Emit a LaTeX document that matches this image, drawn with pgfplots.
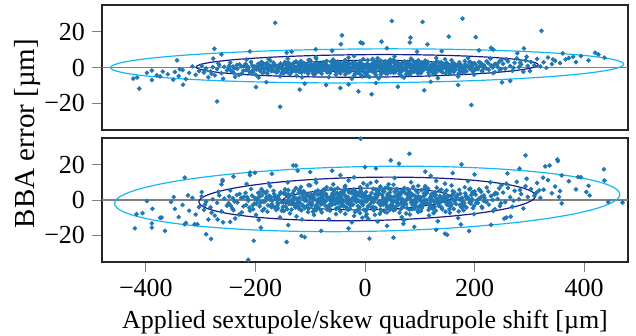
\documentclass[border=0pt]{standalone}
\usepackage{fontspec}
\setmainfont{Liberation Serif}
\usepackage{pgfplots}
\pgfplotsset{compat=1.18}
\definecolor{ptc}{HTML}{1F77B4}
\definecolor{ellC}{HTML}{12B8F5}
\definecolor{ellN}{HTML}{1A1A8C}
\definecolor{ellD}{HTML}{0E0E50}
\pgfplotsset{
  panel/.style={
    scale only axis, width=263pt,
    xmin=-480, xmax=480, ymin=-35, ymax=35,
    ytick={-20,0,20}, yticklabels={−20,0,20},
    tick pos=left, tick align=outside, major tick length=5pt,
    major tick style={gray, line width=0.5pt},
    axis line style={black!85, line width=0.65pt},
    tick label style={font=\fontsize{13}{15}\selectfont},
    label style={font=\fontsize{13}{15}\selectfont},
  },
  pts/.style={only marks, mark=*, mark size=0.95pt, color=ptc, mark options={fill=ptc, draw=none}},
}
\begin{document}
\begin{tikzpicture}
\path[use as bounding box] (-51pt,2.5pt) rectangle (267pt,-165.5pt);
% ---------------- top panel ----------------
\begin{axis}[panel, height=62.5pt, at={(0pt,0pt)}, anchor=north west, xtick=\empty]
\addplot[gray, line width=0.6pt] coordinates {(-480,0) (480,0)};
\addplot[ellD, line width=0.5pt, domain=0:360, samples=121] ({4+156*cos(x)}, {0.9+3.15*sin(x)+0.002*156*cos(x)});
\addplot[pts] coordinates {
(2,1.2)(5,-2.5)(9,0.4)(13,-0.9)(16,3.1)(20,-4.2)(24,0.8)(27,1.9)(31,-1.4)(35,2.6)(38,-3.3)(42,0.1)(46,4.4)(49,-1.8)(1,-0.3)(4,2.2)(8,-5.3)(11,1.0)(15,-2.1)(18,0.6)(22,2.9)(26,-0.7)(29,-3.9)(33,1.5)(36,0.2)(40,-1.1)(44,3.6)(47,-2.8)(3,0.9)(7,-0.4)(10,-1.6)(14,4.8)(17,-2.4)(21,0.5)(25,-6.1)(28,1.7)(32,-0.2)(37,2.4)(41,-3.5)(45,1.3)(48,0.3)(6,-1.9)(12,2.0)(19,-0.6)(23,5.2)(30,-2.7)(34,0.7)(39,-1.2)(43,3.3)(50,-0.8)(2,-4.6)(8,1.1)(14,-0.1)(20,-2.2)(26,2.8)(31,-3.0)(37,0.0)(42,1.6)(47,-1.5)(5,4.1)(11,0.9)(17,-2.9)(23,1.4)(29,3.8)(35,-1.0)(40,-0.5)(46,2.1)(3,-4.0)(9,0.4)(16,-2.0)(22,1.8)(28,-0.3)(34,-1.3)(41,0.6)(48,3.0)
(51,-1.7)(54,2.3)(58,-0.5)(61,1.1)(65,-2.6)(68,0.3)(72,3.4)(75,-1.2)(79,0.8)(82,-4.1)(86,1.6)(89,-0.2)(93,2.7)(96,-3.0)(99,0.5)(52,4.3)(56,-1.9)(59,0.0)(63,-3.6)(66,1.9)(70,-0.8)(73,2.0)(77,-2.3)(80,0.6)(84,5.0)(87,-1.4)(91,1.2)(94,-0.6)(98,-2.1)(53,0.9)(57,3.0)(60,-1.1)(64,0.4)(67,-4.8)(71,2.5)(74,-0.3)(78,1.4)(81,-2.7)(85,-0.1)(88,3.7)(92,-1.6)(95,0.7)(97,-3.4)(55,-0.4)(62,2.1)(69,-1.8)(76,0.2)(83,1.8)(90,-2.4)(97,4.0)(52,-2.9)(58,1.5)(65,-0.9)(71,-5.7)(78,3.1)(84,-0.7)(91,0.1)(98,1.0)(54,6.2)(61,-1.3)(68,2.8)(75,-3.8)(82,0.9)(89,-0.5)(96,2.2)(57,-0.1)(73,-1.0)(87,1.3)
(101,0.7)(104,-2.2)(108,1.9)(111,-0.4)(115,3.2)(118,-1.5)(122,0.2)(125,-3.7)(129,1.4)(132,-0.8)(136,2.6)(139,-2.0)(143,0.5)(146,4.6)(149,-1.1)(102,-3.1)(106,1.0)(109,-0.1)(113,2.3)(117,-4.4)(120,0.9)(124,1.7)(127,-1.9)(131,3.5)(134,-0.3)(138,0.8)(141,-2.6)(145,1.2)(148,-0.6)(103,2.8)(107,-1.3)(112,0.0)(116,-2.8)(121,1.6)(126,-0.5)(130,5.4)(135,-1.7)(140,0.3)(144,2.0)(147,-3.3)(105,-0.9)(110,3.9)(114,-1.0)(119,0.6)(123,-2.4)(128,2.2)(133,-6.0)(137,1.1)(142,-0.2)(150,-1.4)(109,1.3)(119,-0.7)(129,-3.0)(139,2.9)(149,0.4)
(152,1.0)(156,-1.8)(160,2.5)(163,-0.3)(167,0.9)(171,-3.2)(174,1.8)(178,-0.9)(182,3.6)(185,-2.1)(189,0.4)(193,-1.0)(196,2.2)(199,-4.0)(154,-0.5)(158,4.1)(162,-2.5)(165,0.1)(169,1.5)(173,-1.4)(177,0.6)(180,-2.9)(184,1.2)(188,5.3)(191,-0.7)(195,0.3)(198,2.0)(155,-3.6)(161,1.7)(166,-1.1)(172,2.9)(176,-0.1)(181,-1.6)(187,0.8)(192,3.2)(197,-2.3)(159,0.5)(170,-5.1)(183,1.9)(194,-0.4)
(202,1.5)(206,-0.8)(210,2.7)(214,-2.2)(218,0.6)(222,3.5)(226,-1.3)(230,1.1)(234,-3.1)(238,2.0)(242,0.3)(246,-1.7)(249,4.2)(204,-0.2)(208,3.0)(213,-1.9)(217,1.3)(221,-0.5)(225,2.4)(229,5.0)(233,0.0)(237,-2.6)(241,1.8)(245,3.3)(248,-0.9)(212,0.9)(236,1.6)
(252,2.1)(256,-0.6)(261,3.4)(265,0.8)(269,-1.9)(273,2.6)(277,5.1)(281,0.2)(285,1.7)(289,-2.4)(293,3.9)(297,0.9)(258,4.6)(271,-0.2)(283,2.8)(295,6.0)
(303,3.1)(309,1.2)(314,4.8)(320,0.6)(326,2.9)(334,5.6)(341,1.9)(347,3.8)(356,2.5)(372,5.3)(385,3.0)(394,6.4)(408,4.0)(437,5.5)
(-1,0.6)(-4,-1.4)(-8,2.8)(-11,-0.2)(-15,1.3)(-18,-3.4)(-22,0.7)(-25,-1.0)(-29,2.1)(-33,-2.3)(-36,4.0)(-40,0.1)(-43,-0.9)(-47,1.6)(-2,-2.7)(-6,0.9)(-9,3.6)(-13,-1.7)(-17,0.3)(-20,-4.5)(-24,1.9)(-27,-0.4)(-31,0.8)(-35,-2.0)(-38,2.5)(-42,-0.6)(-45,-3.2)(-49,1.0)(-3,4.7)(-7,-0.8)(-10,1.2)(-14,-2.9)(-19,0.0)(-23,2.3)(-26,-1.6)(-30,5.5)(-34,-0.3)(-37,1.4)(-41,-1.2)(-46,0.4)(-5,-5.0)(-12,1.7)(-16,-0.5)(-21,3.0)(-28,-2.5)(-32,0.6)(-39,-1.8)(-44,2.2)(-48,-0.1)(-50,3.3)(-2,1.5)(-9,-3.7)(-15,0.2)(-22,-1.3)(-29,2.6)(-35,0.9)(-41,-0.7)(-47,-2.2)(-6,2.0)(-12,-0.3)(-18,1.1)(-24,-6.3)(-31,0.5)(-37,3.8)(-43,-1.5)(-4,-0.6)(-10,-2.1)(-17,2.4)(-23,0.4)(-30,-1.1)(-36,-3.9)(-42,1.8)(-48,0.7)(-20,6.4)(-33,-0.8)
(-51,2.0)(-55,-1.1)(-58,0.5)(-62,3.2)(-65,-2.4)(-69,0.9)(-72,-0.4)(-76,1.8)(-79,-3.5)(-83,0.2)(-86,2.7)(-90,-1.6)(-93,0.7)(-97,-0.9)(-100,4.1)(-53,-4.0)(-56,1.4)(-60,-0.2)(-63,0.8)(-67,-1.9)(-70,3.6)(-74,-0.6)(-77,1.1)(-81,-2.8)(-84,0.4)(-88,-0.1)(-91,2.3)(-95,-3.3)(-98,1.6)(-52,0.3)(-57,2.6)(-61,-1.4)(-66,-5.4)(-71,1.0)(-75,-0.7)(-80,2.1)(-85,-2.0)(-89,4.9)(-94,0.0)(-99,-1.3)(-54,-0.5)(-59,1.9)(-64,-3.0)(-68,0.6)(-73,2.9)(-78,-1.0)(-82,-0.3)(-87,1.5)(-92,-2.6)(-96,0.8)(-51,-2.2)(-58,4.4)(-65,0.1)(-72,-1.7)(-79,1.3)(-86,-0.8)(-93,-4.2)(-100,0.9)(-55,3.0)(-62,-0.9)(-69,-2.7)(-76,0.2)(-83,1.7)(-90,5.7)(-97,-1.5)(-60,0.4)(-74,-0.1)(-88,-2.3)
(-102,1.1)(-105,-1.6)(-109,0.3)(-112,2.5)(-116,-2.9)(-119,0.7)(-123,-0.6)(-126,3.4)(-130,-1.3)(-133,0.0)(-137,-3.8)(-140,1.6)(-144,-0.4)(-147,2.1)(-150,-2.0)(-103,4.2)(-107,-0.2)(-110,-2.3)(-114,1.4)(-118,-0.9)(-121,2.0)(-125,-4.6)(-128,0.5)(-132,1.9)(-135,-1.1)(-139,0.8)(-142,-2.6)(-146,3.0)(-149,-0.7)(-104,-3.4)(-108,0.9)(-113,-1.5)(-117,3.7)(-122,0.2)(-127,-2.1)(-131,1.2)(-136,-0.5)(-141,5.0)(-145,-1.8)(-106,1.7)(-111,-0.1)(-115,-5.5)(-120,2.8)(-124,-1.0)(-129,0.6)(-134,-2.7)(-138,1.3)(-143,-0.3)(-148,-3.1)(-101,-0.8)(-111,2.2)(-121,-1.9)(-131,-0.6)(-141,1.0)(-124,0.4)
(-152,-0.6)(-156,1.5)(-159,-2.3)(-163,0.4)(-167,2.6)(-170,-1.2)(-174,0.1)(-178,-3.3)(-181,1.9)(-185,-0.5)(-189,3.1)(-192,-1.8)(-196,0.6)(-199,-4.2)(-154,2.2)(-158,-0.9)(-162,-2.8)(-165,1.0)(-169,-0.2)(-173,3.9)(-177,-1.5)(-180,0.7)(-184,-2.5)(-188,1.3)(-191,-0.8)(-195,2.0)(-198,-1.1)(-155,-4.9)(-161,0.3)(-166,1.7)(-171,-2.0)(-176,4.7)(-182,-0.3)(-187,-3.0)(-193,0.9)(-197,-0.1)(-160,-1.6)(-172,0.8)(-186,2.4)(-194,-5.6)
(-202,-1.0)(-206,1.2)(-210,-3.0)(-214,0.3)(-218,2.0)(-222,-1.8)(-226,0.6)(-230,-4.1)(-234,1.4)(-238,-0.4)(-242,-2.4)(-246,2.7)(-249,-0.9)(-204,-2.6)(-208,3.1)(-213,-0.2)(-217,-1.4)(-221,0.9)(-225,-3.5)(-229,1.7)(-233,-0.7)(-237,-5.2)(-241,0.5)(-245,-1.6)(-248,1.0)(-216,4.5)(-240,-2.9)
(-252,-1.6)(-257,0.4)(-262,-3.2)(-266,1.3)(-270,-0.8)(-274,-4.4)(-278,0.2)(-282,-2.1)(-286,-5.5)(-290,-0.5)(-294,-2.8)(-298,1.0)(-259,-6.3)(-268,2.3)(-280,-3.6)(-292,-1.3)
(-303,-2.0)(-309,-4.1)(-315,0.6)(-321,-3.0)(-327,-6.5)(-333,-1.4)(-340,-4.8)(-347,-2.5)
(-423,-6.2)(-412,-11.8)(-416,-5.6)(-389,-1.7)(-389,-7)(-369,-2.3)(-374,-5)(-343,4)(-350,-6.8)(-332,-9.6)(-338,-1)(-360,-3.8)(-380,-4.4)(-398,-3.0)
(420,8.3)(426,7.3)(380,6)(361,7.9)(366,4.5)(343,4.5)(331,-0.2)(301,-2)
(-270,-19)(-275,10.5)(-164,25)(-155,-22)(-143,8.3)(-134,8.8)(-119,-12.4)(-199,-11)(-262,7.3)(-277,5)(49,26)(105,25.5)(178,27.4)(322,20.5)(-42,18)(153,17.3)(202,17)(30,14.5)(83,16.7)(82,14)(-8,14)(-4,13.5)(-44,13)(114,13)(194,-21)(108,-12.8)(12,-15)(-12,-13.4)(-45,-11.5)(-71,-9.8)(234,10)(230,11)(208,9.6)(290,10.7)(278,8)(-90,10.2)(-30,-9.5)(60,-10.8)(140,9.1)(170,-9.8)(250,-8.3)(-210,9)(-60,9.4)(20,-8.7)(95,8.9)(-180,-8.2)(120,-8.0)(265,-7.5)(-110,-9.0)(40,10.8)
(-215,0.8)(-205,-1.5)(-193,2.1)(-183,-0.4)(-175,1.2)(-166,-2.0)(-157,0.3)(-148,1.8)(-139,-1.1)(-130,2.6)(-121,-0.7)(-112,0.5)(-103,-2.4)(-94,1.5)(-85,-0.2)(-76,2.9)(-67,-1.6)(-58,0.8)(-49,-0.9)(-40,2.2)(-31,-2.8)(-22,0.1)(-13,1.9)(-4,-1.3)(5,0.6)(14,-2.3)(23,2.5)(32,-0.5)(41,1.1)(50,-1.9)(59,3.0)(68,-0.1)(77,1.6)(86,-2.6)(95,0.9)(104,-0.6)(113,2.0)(122,-1.8)(131,0.4)(140,-0.3)(149,2.7)(158,-1.2)(167,1.0)(176,-2.1)(185,0.7)(194,1.4)(203,-0.8)(212,2.3)
(-211,-2.2)(-201,0.6)(-189,-0.5)(-179,2.4)(-170,-1.7)(-161,0.9)(-152,-3.0)(-143,1.3)(-134,0.0)(-125,-1.9)(-116,2.3)(-107,-0.1)(-98,1.0)(-89,-2.9)(-80,0.5)(-71,1.7)(-62,-0.3)(-53,-2.5)(-44,0.9)(-35,3.1)(-26,-1.0)(-17,-0.2)(-8,2.4)(1,-3.1)(10,0.3)(19,1.6)(28,-1.4)(37,3.4)(46,0.2)(55,-2.7)(64,1.3)(73,-0.6)(82,2.1)(91,-1.3)(100,0.0)(109,3.3)(118,-2.2)(127,1.1)(136,-0.9)(145,0.6)(154,-2.6)(163,2.2)(172,0.2)(181,-0.9)(190,3.0)(199,-1.7)(208,0.4)(217,-0.3)
(-180,0.2)(-160,-0.8)(-140,2.8)(-120,-2.5)(-100,0.6)(-80,-1.2)(-60,1.4)(-40,-1.5)(-20,2.0)(0,-0.4)(20,1.0)(40,-2.0)(60,0.8)(80,2.6)(100,-1.6)(120,0.2)(140,-2.2)(160,1.5)(180,-0.6)(200,2.4)
};
\addplot[ellN, line width=0.6pt, domain=0:360, samples=121] ({4+312*cos(x)}, {0.9+6.3*sin(x)+0.002*312*cos(x)});
\addplot[ellC, line width=0.6pt, domain=0:360, samples=121] ({4+468*cos(x)}, {0.9+9.5*sin(x)+0.002*468*cos(x)});
\end{axis}
% ---------------- bottom panel ----------------
\begin{axis}[panel, height=62pt, at={(0pt,-66.5pt)}, anchor=north west,
  xtick={-400,-200,0,200,400}, xticklabels={−400,−200,0,200,400},
  xlabel={Applied sextupole/skew quadrupole shift [µm]}]
\addplot[gray, line width=0.6pt] coordinates {(-480,0) (480,0)};
\addplot[ellD, line width=0.5pt, domain=0:360, samples=121] ({4+154*cos(x)}, {0.6+6.1*sin(x)+0.0055*154*cos(x)});
\addplot[pts] coordinates {
(1,2.4)(4,-5.1)(8,0.9)(11,-1.8)(15,6.3)(18,-8.4)(22,1.6)(25,3.9)(29,-2.8)(32,5.2)(36,-6.6)(39,0.2)(43,8.9)(46,-3.6)(49,-0.6)(2,4.5)(6,-10.7)(9,2.0)(13,-4.2)(17,1.2)(20,5.8)(24,-1.4)(27,-7.8)(31,3.0)(34,0.4)(38,-2.2)(41,7.2)(45,-5.6)(48,1.8)(3,-0.8)(7,-3.2)(10,9.6)(14,-4.8)(19,1.0)(23,-12.2)(26,3.4)(30,-0.4)(35,4.8)(40,-7.0)(44,2.6)(47,0.6)(5,-3.8)(12,4.0)(16,-1.2)(21,10.4)(28,-5.4)(33,1.4)(37,-2.4)(42,6.6)(50,-1.6)(2,-9.2)(8,2.2)(13,-0.2)(19,-4.4)(25,5.6)(30,-6.0)(36,0.0)(41,3.2)(46,-3.0)(4,8.2)(10,1.8)(16,-5.8)(22,2.8)(28,7.6)(34,-2.0)(39,-1.0)(45,4.2)(3,-8.0)(9,0.8)(15,-4.0)(21,3.6)(27,-0.6)(33,-2.6)(40,1.2)(47,6.0)
(51,-3.4)(54,4.6)(58,-1.0)(61,2.2)(65,-5.2)(68,0.6)(72,6.8)(75,-2.4)(79,1.6)(82,-8.2)(86,3.2)(89,-0.4)(93,5.4)(96,-6.0)(99,1.0)(52,8.6)(56,-3.8)(59,0.0)(63,-7.2)(66,3.8)(70,-1.6)(73,4.0)(77,-4.6)(80,1.2)(84,10.0)(87,-2.8)(91,2.4)(94,-1.2)(98,-4.2)(53,1.8)(57,6.0)(60,-2.2)(64,0.8)(67,-9.6)(71,5.0)(74,-0.6)(78,2.8)(81,-5.4)(85,-0.2)(88,7.4)(92,-3.2)(95,1.4)(97,-6.8)(55,-0.8)(62,4.2)(69,-3.6)(76,0.4)(83,3.6)(90,-4.8)(97,8.0)(52,-5.8)(58,3.0)(65,-1.8)(71,-11.4)(78,6.2)(84,-1.4)(91,0.2)(98,2.0)(54,12.4)(61,-2.6)(68,5.6)(75,-7.6)(82,1.8)(89,-1.0)(96,4.4)(57,-0.2)(73,-2.0)(87,2.6)
(101,1.4)(104,-4.4)(108,3.8)(111,-0.8)(115,6.4)(118,-3.0)(122,0.4)(125,-7.4)(129,2.8)(132,-1.6)(136,5.2)(139,-4.0)(143,1.0)(146,9.2)(149,-2.2)(102,-6.2)(106,2.0)(109,-0.2)(113,4.6)(117,-8.8)(120,1.8)(124,3.4)(127,-3.8)(131,7.0)(134,-0.6)(138,1.6)(141,-5.2)(145,2.4)(148,-1.2)(103,5.6)(107,-2.6)(112,0.0)(116,-5.6)(121,3.2)(126,-1.0)(130,10.8)(135,-3.4)(140,0.6)(144,4.0)(147,-6.6)(105,-1.8)(110,7.8)(114,-2.0)(119,1.2)(123,-4.8)(128,4.4)(133,-12.0)(137,2.2)(142,-0.4)(150,-2.8)(109,2.6)(119,-1.4)(129,-6.0)(139,5.8)(149,0.8)
(152,2.0)(156,-3.6)(160,5.0)(163,-0.6)(167,1.8)(171,-6.4)(174,3.6)(178,-1.8)(182,7.2)(185,-4.2)(189,0.8)(193,-2.0)(196,4.4)(199,-8.0)(154,-1.0)(158,8.2)(162,-5.0)(165,0.2)(169,3.0)(173,-2.8)(177,1.2)(180,-5.8)(184,2.4)(188,10.6)(191,-1.4)(195,0.6)(198,4.0)(155,-7.2)(161,3.4)(166,-2.2)(172,5.8)(176,-0.2)(181,-3.2)(187,1.6)(192,6.4)(197,-4.6)(159,1.0)(170,-10.2)(183,3.8)(194,-0.8)
(202,3.0)(206,-1.6)(210,5.4)(214,-4.4)(218,1.2)(222,7.0)(226,-2.6)(230,2.2)(234,-6.2)(238,4.0)(242,0.6)(246,-3.4)(249,8.4)(204,-0.4)(208,6.0)(213,-3.8)(217,2.6)(221,-1.0)(225,4.8)(229,10.0)(233,0.0)(237,-5.2)(241,3.6)(245,6.6)(248,-1.8)(212,1.8)(236,3.2)
(252,4.2)(256,-1.2)(261,6.8)(265,1.6)(269,-3.8)(273,5.2)(277,10.2)(281,0.4)(285,3.4)(289,-4.8)(293,7.8)(297,1.8)(258,9.2)(271,-0.4)(283,5.6)(295,12.0)
(303,6.2)(309,2.4)(314,9.6)(320,1.2)(326,5.8)(334,11.2)(341,3.8)(347,7.6)(356,5.0)(372,10.6)(385,6.0)(394,12.8)(408,8.0)(437,11.0)
(-1,1.2)(-4,-2.8)(-8,5.6)(-11,-0.4)(-15,2.6)(-18,-6.8)(-22,1.4)(-25,-2.0)(-29,4.2)(-33,-4.6)(-36,8.0)(-40,0.2)(-43,-1.8)(-47,3.2)(-2,-5.4)(-6,1.8)(-9,7.2)(-13,-3.4)(-17,0.6)(-20,-9.0)(-24,3.8)(-27,-0.8)(-31,1.6)(-35,-4.0)(-38,5.0)(-42,-1.2)(-45,-6.4)(-49,2.0)(-3,9.4)(-7,-1.6)(-10,2.4)(-14,-5.8)(-19,0.0)(-23,4.6)(-26,-3.2)(-30,11.0)(-34,-0.6)(-37,2.8)(-41,-2.4)(-46,0.8)(-5,-10.0)(-12,3.4)(-16,-1.0)(-21,6.0)(-28,-5.0)(-32,1.2)(-39,-3.6)(-44,4.4)(-48,-0.2)(-50,6.6)(-2,3.0)(-9,-7.4)(-15,0.4)(-22,-2.6)(-29,5.2)(-35,1.8)(-41,-1.4)(-47,-4.4)(-6,4.0)(-12,-0.6)(-18,2.2)(-24,-12.6)(-31,1.0)(-37,7.6)(-43,-3.0)(-4,-1.2)(-10,-4.2)(-17,4.8)(-23,0.8)(-30,-2.2)(-36,-7.8)(-42,3.6)(-48,1.4)(-20,12.8)(-33,-1.6)
(-51,4.0)(-55,-2.2)(-58,1.0)(-62,6.4)(-65,-4.8)(-69,1.8)(-72,-0.8)(-76,3.6)(-79,-7.0)(-83,0.4)(-86,5.4)(-90,-3.2)(-93,1.4)(-97,-1.8)(-100,8.2)(-53,-8.0)(-56,2.8)(-60,-0.4)(-63,1.6)(-67,-3.8)(-70,7.2)(-74,-1.2)(-77,2.2)(-81,-5.6)(-84,0.8)(-88,-0.2)(-91,4.6)(-95,-6.6)(-98,3.2)(-52,0.6)(-57,5.2)(-61,-2.8)(-66,-10.8)(-71,2.0)(-75,-1.4)(-80,4.2)(-85,-4.0)(-89,9.8)(-94,0.0)(-99,-2.6)(-54,-1.0)(-59,3.8)(-64,-6.0)(-68,1.2)(-73,5.8)(-78,-2.0)(-82,-0.6)(-87,3.0)(-92,-5.2)(-96,1.6)(-51,-4.4)(-58,8.8)(-65,0.2)(-72,-3.4)(-79,2.6)(-86,-1.6)(-93,-8.4)(-100,1.8)(-55,6.0)(-62,-1.8)(-69,-5.4)(-76,0.4)(-83,3.4)(-90,11.4)(-97,-3.0)(-60,0.8)(-74,-0.2)(-88,-4.6)
(-102,2.2)(-105,-3.2)(-109,0.6)(-112,5.0)(-116,-5.8)(-119,1.4)(-123,-1.2)(-126,6.8)(-130,-2.6)(-133,0.0)(-137,-7.6)(-140,3.2)(-144,-0.8)(-147,4.2)(-150,-4.0)(-103,8.4)(-107,-0.4)(-110,-4.6)(-114,2.8)(-118,-1.8)(-121,4.0)(-125,-9.2)(-128,1.0)(-132,3.8)(-135,-2.2)(-139,1.6)(-142,-5.2)(-146,6.0)(-149,-1.4)(-104,-6.8)(-108,1.8)(-113,-3.0)(-117,7.4)(-122,0.4)(-127,-4.2)(-131,2.4)(-136,-1.0)(-141,10.0)(-145,-3.6)(-106,3.4)(-111,-0.2)(-115,-11.0)(-120,5.6)(-124,-2.0)(-129,1.2)(-134,-5.4)(-138,2.6)(-143,-0.6)(-148,-6.2)(-101,-1.6)(-111,4.4)(-121,-3.8)(-131,-1.2)(-141,2.0)(-124,0.8)
(-152,-1.2)(-156,3.0)(-159,-4.6)(-163,0.8)(-167,5.2)(-170,-2.4)(-174,0.2)(-178,-6.6)(-181,3.8)(-185,-1.0)(-189,6.2)(-192,-3.6)(-196,1.2)(-199,-8.4)(-154,4.4)(-158,-1.8)(-162,-5.6)(-165,2.0)(-169,-0.4)(-173,7.8)(-177,-3.0)(-180,1.4)(-184,-5.0)(-188,2.6)(-191,-1.6)(-195,4.0)(-198,-2.2)(-155,-9.8)(-161,0.6)(-166,3.4)(-171,-4.0)(-176,9.4)(-182,-0.6)(-187,-6.0)(-193,1.8)(-197,-0.2)(-160,-3.2)(-172,1.6)(-186,4.8)(-194,-11.2)
(-202,-2.0)(-206,2.4)(-210,-6.0)(-214,0.6)(-218,4.0)(-222,-3.6)(-226,1.2)(-230,-8.2)(-234,2.8)(-238,-0.8)(-242,-4.8)(-246,5.4)(-249,-1.8)(-204,-5.2)(-208,6.2)(-213,-0.4)(-217,-2.8)(-221,1.8)(-225,-7.0)(-229,3.4)(-233,-1.4)(-237,-10.4)(-241,1.0)(-245,-3.2)(-248,2.0)(-216,9.0)(-240,-5.8)
(-252,-3.2)(-257,0.8)(-262,-6.4)(-266,2.6)(-270,-1.6)(-274,-8.8)(-278,0.4)(-282,-4.2)(-286,-11.0)(-290,-1.0)(-294,-5.6)(-298,2.0)(-259,-12.6)(-268,4.6)(-280,-7.2)(-292,-2.6)
(-303,-4.0)(-309,-8.2)(-315,1.2)(-321,-6.0)(-327,-13.0)(-333,-2.8)(-340,-9.6)(-347,-5.0)
(293,25.2)(351,22.9)(337,19.5)(329,19)(436,17.3)(359,13.9)(389,13)(404,4.5)(410,2.6)(444,-1.1)(470,-1.5)(359,-1.9)(354,1.7)(282,17.7)(254,-10.5)(266,-9.4)(176,20.1)(352,22)(325,12.6)(313,4.2)(318,5.5)(258,-9.9)
(-420,-16)(-389,-15.6)(-389,-13.2)(-374,-10)(-365,-17.4)(-417,-8)(-406,-7.4)(-398,-0.6)(-388,-5)(-354,-1.1)(-349,1.7)(-323,2.6)(-298,4.5)(-329,12.6)(-290,-19.3)(-281,-22)(-213,-33.8)(-203,-23)(-143,-23.7)(-116,-20.3)(-110,-21)
(-131,19.5)(-126,19.4)(-123,16.5)(-201,15.4)(-210,15.5)(-260,11.3)(-262,8.8)(-260,10.6)(-210,14)(-371,-9.9)(-329,-13.7)(-311,-13.7)(-306,-13.7)(-246,-12.4)(-269,-11)
(-8,34.6)(81,26.1)(47,22.4)(62,20.5)(8,-21.8)(52,-21.2)(146,-19)(150,-19.6)(190,-17.5)
(-60,16.5)(20,17.8)(110,16.0)(160,15.2)(-170,14.8)(-30,-16.0)(90,-15.2)(-80,-17.4)(200,14.4)(230,-14.0)(-100,15.8)(130,-16.8)(0,18.6)(-190,-15.6)(260,15.0)(-240,13.2)(40,-14.6)(-140,-14.2)(175,-13.8)(-45,14.0)(120,13.6)(70,-13.4)
(-215,1.6)(-205,-3.0)(-193,4.2)(-183,-0.8)(-175,2.4)(-166,-4.0)(-157,0.6)(-148,3.6)(-139,-2.2)(-130,5.2)(-121,-1.4)(-112,1.0)(-103,-4.8)(-94,3.0)(-85,-0.4)(-76,5.8)(-67,-3.2)(-58,1.6)(-49,-1.8)(-40,4.4)(-31,-5.6)(-22,0.2)(-13,3.8)(-4,-2.6)(5,1.2)(14,-4.6)(23,5.0)(32,-1.0)(41,2.2)(50,-3.8)(59,6.0)(68,-0.2)(77,3.2)(86,-5.2)(95,1.8)(104,-1.2)(113,4.0)(122,-3.6)(131,0.8)(140,-0.6)(149,5.4)(158,-2.4)(167,2.0)(176,-4.2)(185,1.4)(194,2.8)(203,-1.6)(212,4.6)
(-211,-4.4)(-201,1.2)(-189,-1.0)(-179,4.8)(-170,-3.4)(-161,1.8)(-152,-6.0)(-143,2.6)(-134,0.0)(-125,-3.8)(-116,4.6)(-107,-0.2)(-98,2.0)(-89,-5.8)(-80,1.0)(-71,3.4)(-62,-0.6)(-53,-5.0)(-44,1.8)(-35,6.2)(-26,-2.0)(-17,-0.4)(-8,4.8)(1,-6.2)(10,0.6)(19,3.2)(28,-2.8)(37,6.8)(46,0.4)(55,-5.4)(64,2.6)(73,-1.2)(82,4.2)(91,-2.6)(100,0.0)(109,6.6)(118,-4.4)(127,2.2)(136,-1.8)(145,1.2)(154,-5.2)(163,4.4)(172,0.4)(181,-1.8)(190,6.0)(199,-3.4)(208,0.8)(217,-0.6)
(-180,0.4)(-160,-1.6)(-140,5.6)(-120,-5.0)(-100,1.2)(-80,-2.4)(-60,2.8)(-40,-3.0)(-20,4.0)(0,-0.8)(20,2.0)(40,-4.0)(60,1.6)(80,5.2)(100,-3.2)(120,0.4)(140,-4.4)(160,3.0)(180,-1.2)(200,4.8)
};
\addplot[ellN, line width=0.6pt, domain=0:360, samples=121] ({4+307*cos(x)}, {0.6+12.2*sin(x)+0.0055*307*cos(x)});
\addplot[ellC, line width=0.6pt, domain=0:360, samples=121] ({4+461*cos(x)}, {0.6+18.3*sin(x)+0.0055*461*cos(x)});
\end{axis}
\node[rotate=90, font=\fontsize{14.5}{16}\selectfont] at (-37pt,-64.25pt) {BBA error [µm]};
\end{tikzpicture}
\end{document}
